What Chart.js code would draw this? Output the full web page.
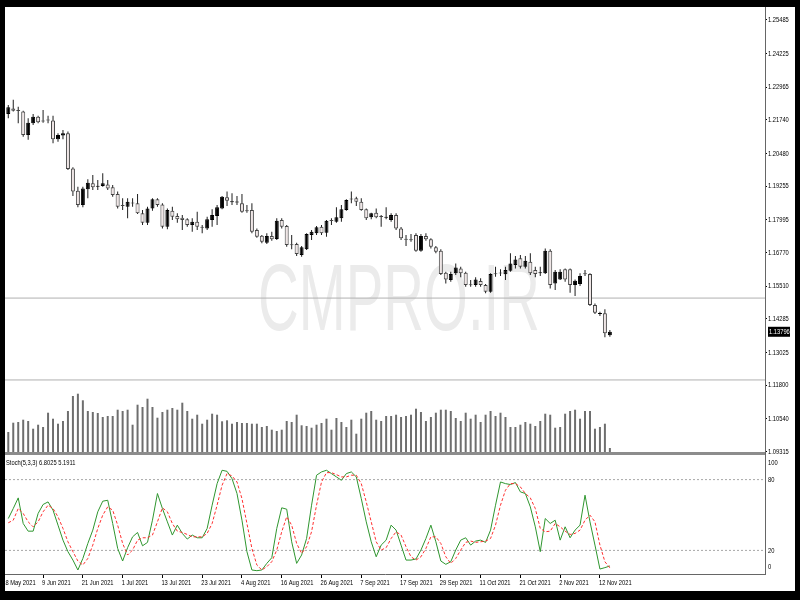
<!DOCTYPE html>
<html>
<head>
<meta charset="utf-8">
<script src="https://cdn.jsdelivr.net/npm/chart.js@4"></script>
<style>
  body { margin: 0; background: #000; width: 800px; height: 600px; overflow: hidden; }
  .abs { position: absolute; }
</style>
</head>
<body>
<div class="abs" style="left:5px;top:7px;width:790px;height:584px;background:#fff"></div>
<canvas id="main" class="abs" width="790" height="448" style="left:5px;top:7px"></canvas>
<canvas id="stoch" class="abs" width="790" height="136" style="left:5px;top:455px"></canvas>
<div class="abs" style="left:5px;top:452px;width:760px;height:3px;background:#8c8c8c"></div>
<div class="abs" style="left:765px;top:452px;width:1px;height:4px;background:#666"></div>
<script>
// EURUSD daily, 31 May - 16 Nov 2021
const opens = [
  1.2196,1.2217,1.2209,1.2205,1.2117,1.2161,1.2186,1.2170,1.2174,1.2172,
  1.2101,1.2115,1.2124,1.1992,1.1908,1.1855,1.1914,1.1936,1.1923,1.1926,
  1.1932,1.1921,1.1896,1.1852,1.1848,1.1861,1.1861,1.1824,1.1788,1.1842,
  1.1876,1.1857,1.1773,1.1833,1.1814,1.1807,1.1801,1.1780,1.1792,1.1771,
  1.1767,1.1799,1.1814,1.1842,1.1884,1.1865,1.1864,1.1861,1.1832,1.1836,
  1.1761,1.1740,1.1713,1.1739,1.1727,1.1799,1.1776,1.1705,1.1709,1.1667,
  1.1689,1.1742,1.1749,1.1773,1.1751,1.1796,1.1792,1.1805,1.1836,1.1876,
  1.1880,1.1867,1.1839,1.1809,1.1826,1.1811,1.1807,1.1799,1.1817,1.1767,
  1.1727,1.1724,1.1742,1.1683,1.1739,1.1726,1.1696,1.1683,1.1601,1.1574,
  1.1599,1.1617,1.1601,1.1555,1.1555,1.1570,1.1555,1.1530,1.1596,1.1599,
  1.1595,1.1608,1.1630,1.1655,1.1623,1.1642,1.1611,1.1599,1.1599,1.1683,
  1.1561,1.1576,1.1614,1.1614,1.1555,1.1559,1.1596,1.1596,1.1480,1.1446,
  1.1449,1.1367
]
const highs = [
  1.2230,1.2249,1.2223,1.2208,1.2180,1.2196,1.2189,1.2211,1.2189,1.2189,
  1.2124,1.2136,1.2130,1.1996,1.1923,1.1923,1.1951,1.1967,1.1949,1.1974,
  1.1949,1.1930,1.1905,1.1880,1.1880,1.1880,1.1896,1.1836,1.1848,1.1880,
  1.1880,1.1861,1.1842,1.1848,1.1824,1.1817,1.1805,1.1805,1.1830,1.1780,
  1.1811,1.1839,1.1855,1.1889,1.1905,1.1899,1.1889,1.1896,1.1855,1.1861,
  1.1767,1.1742,1.1749,1.1755,1.1805,1.1805,1.1780,1.1742,1.1713,1.1701,
  1.1749,1.1761,1.1776,1.1780,1.1799,1.1805,1.1846,1.1855,1.1876,1.1905,
  1.1886,1.1880,1.1842,1.1826,1.1842,1.1817,1.1846,1.1824,1.1824,1.1772,
  1.1742,1.1746,1.1749,1.1746,1.1749,1.1730,1.1701,1.1689,1.1605,1.1605,
  1.1636,1.1623,1.1605,1.1574,1.1584,1.1580,1.1559,1.1599,1.1623,1.1614,
  1.1623,1.1674,1.1664,1.1667,1.1664,1.1674,1.1623,1.1623,1.1692,1.1689,
  1.1611,1.1614,1.1617,1.1617,1.1576,1.1599,1.1611,1.1599,1.1486,1.1455,
  1.1464,1.1386
]
const lows = [
  1.2180,1.2205,1.2161,1.2111,1.2099,1.2155,1.2161,1.2163,1.2161,1.2086,
  1.2092,1.2101,1.1986,1.1889,1.1846,1.1846,1.1880,1.1911,1.1911,1.1923,
  1.1911,1.1886,1.1842,1.1836,1.1805,1.1848,1.1821,1.1780,1.1780,1.1833,
  1.1848,1.1767,1.1764,1.1799,1.1788,1.1761,1.1773,1.1755,1.1761,1.1749,
  1.1761,1.1773,1.1780,1.1839,1.1851,1.1855,1.1855,1.1826,1.1826,1.1749,
  1.1732,1.1711,1.1709,1.1721,1.1724,1.1767,1.1698,1.1689,1.1664,1.1661,
  1.1686,1.1724,1.1742,1.1742,1.1736,1.1780,1.1788,1.1792,1.1833,1.1861,
  1.1851,1.1833,1.1799,1.1801,1.1805,1.1773,1.1801,1.1792,1.1761,1.1724,
  1.1701,1.1717,1.1680,1.1680,1.1721,1.1692,1.1674,1.1592,1.1561,1.1567,
  1.1592,1.1584,1.1548,1.1548,1.1548,1.1548,1.1524,1.1526,1.1586,1.1589,
  1.1574,1.1605,1.1617,1.1617,1.1617,1.1592,1.1584,1.1589,1.1596,1.1542,
  1.1536,1.1574,1.1567,1.1526,1.1514,1.1551,1.1589,1.1476,1.1446,1.1439,
  1.1359,1.1361
]
const closes = [
  1.2221,1.2208,1.2207,1.2117,1.2163,1.2186,1.2165,1.2168,1.2172,1.2101,
  1.2117,1.2124,1.1990,1.1905,1.1855,1.1917,1.1938,1.1921,1.1924,1.1936,
  1.1917,1.1892,1.1848,1.1851,1.1867,1.1860,1.1824,1.1788,1.1842,1.1876,
  1.1855,1.1773,1.1836,1.1811,1.1801,1.1799,1.1780,1.1792,1.1773,1.1770,
  1.1801,1.1817,1.1846,1.1886,1.1871,1.1866,1.1868,1.1830,1.1831,1.1755,
  1.1736,1.1717,1.1739,1.1726,1.1796,1.1773,1.1705,1.1704,1.1671,1.1696,
  1.1746,1.1755,1.1771,1.1749,1.1796,1.1795,1.1809,1.1839,1.1874,1.1875,
  1.1867,1.1836,1.1805,1.1824,1.1809,1.1810,1.1808,1.1817,1.1767,1.1730,
  1.1725,1.1723,1.1683,1.1739,1.1726,1.1698,1.1680,1.1596,1.1576,1.1596,
  1.1621,1.1599,1.1555,1.1554,1.1576,1.1555,1.1530,1.1596,1.1595,1.1598,
  1.1611,1.1636,1.1651,1.1623,1.1646,1.1599,1.1596,1.1601,1.1683,1.1555,
  1.1605,1.1605,1.1576,1.1555,1.1571,1.1589,1.1595,1.1480,1.1451,1.1447,
  1.1374,1.13796
]
const volumes = [
  20000,29300,30000,32300,31000,23300,27300,25000,39300,33300,
  28300,31000,41000,56000,58300,51700,41000,40000,39000,35000,
  36000,36000,42300,41000,42300,27300,47300,45000,53300,45000,
  34300,40000,42300,44000,42300,49300,41000,33300,37300,28300,
  32300,38300,37300,30700,31700,28300,30000,29000,29000,28300,
  28300,25000,26000,22300,21000,22300,31000,30000,37300,26700,
  26000,24300,27300,29000,33300,22300,34000,30000,25000,32300,
  18300,33300,39300,41000,32300,31000,36000,36000,37300,35000,
  36000,37300,43300,40000,31000,35000,39300,42300,42300,41000,
  34000,31000,39300,33300,37300,30000,37300,41000,36000,39300,
  35000,25000,25000,27300,30000,28300,26000,31000,38300,37300,
  24300,25000,38300,41000,42300,33300,41000,41000,23300,25000,
  28300,4000
]
const stochK = [
  47.0,55.5,64.5,42.8,36.3,36.3,51.3,58.9,61.1,54.1,
  41.4,28.7,18.9,11.8,3.4,13.2,25.9,37.2,52.7,61.7,
  62.5,42.8,21.7,11.0,22.3,31.5,35.2,23.9,26.8,45.6,
  68.2,55.5,44.2,33.0,41.4,34.4,29.6,33.0,30.7,30.7,
  38.6,58.3,76.6,87.9,87.0,80.8,68.2,45.6,18.9,3.4,
  2.8,3.4,9.0,13.8,38.6,56.1,54.9,27.3,9.0,16.1,
  30.1,58.3,83.7,86.5,87.9,85.1,82.3,79.4,85.1,86.5,
  82.3,63.9,44.2,27.3,14.6,24.5,28.7,41.4,37.2,24.5,
  11.8,11.8,12.7,20.3,30.1,41.4,27.3,11.0,8.2,10.4,
  20.3,28.7,30.7,24.5,27.9,28.7,26.8,37.2,58.3,78.0,
  76.6,75.8,77.5,69.6,68.2,56.9,40.0,18.9,47.0,42.8,
  45.6,28.7,40.0,30.7,37.2,41.4,66.8,44.2,24.5,4.2,
  5.4,6.8025
]
const stochD = [
  43.4,45.6,55.5,51.3,44.2,40.0,44.2,52.7,58.3,55.5,
  48.5,38.6,27.3,18.9,11.0,7.6,13.2,24.5,38.6,49.9,
  56.9,54.1,41.4,25.9,16.1,20.3,28.7,30.7,30.7,33.0,
  44.2,56.1,52.7,42.8,36.3,35.2,33.5,31.5,31.5,31.5,
  34.4,42.8,58.3,75.2,85.1,83.1,78.0,63.9,42.8,21.7,
  7.6,3.4,6.2,10.4,20.3,35.8,48.5,41.4,25.9,17.5,
  23.1,35.8,58.3,78.0,85.9,85.9,84.2,82.3,82.3,83.7,
  83.7,76.6,61.1,44.2,27.3,20.3,22.3,30.1,35.8,33.0,
  23.1,14.6,11.8,14.6,21.7,31.5,31.5,25.9,14.6,9.0,
  13.2,20.3,26.8,27.9,26.8,27.3,27.9,30.1,41.4,58.3,
  71.0,76.6,76.6,73.8,68.2,64.5,55.5,38.6,35.8,36.3,
  42.8,40.0,36.3,33.5,34.4,37.2,45.6,49.9,44.2,24.5,
  10.4,5.1911
]
const priceTicks = [1.25485,1.24225,1.22965,1.21740,1.20480,1.19255,1.17995,1.16770,1.15510,1.14285,1.13025,1.11800,1.10540,1.09315]
const priceLines = [1.1506, 1.1199]
const stochTicks = [100, 80, 20, 0]
const stochLevels = [80, 20]
const dateLabels = ["28 May 2021","9 Jun 2021","21 Jun 2021","1 Jul 2021","13 Jul 2021","23 Jul 2021","4 Aug 2021","16 Aug 2021",
  "26 Aug 2021","7 Sep 2021","17 Sep 2021","29 Sep 2021","11 Oct 2021","21 Oct 2021","2 Nov 2021","12 Nov 2021"]
const dateTickIdx = [-1,7,15,23,31,39,47,55,63,71,79,87,95,103,111,119]

// visible window (bar index range, chart shift on the right) and price range
const xMin = -0.66, xMax = 152.2
const priceMin = 1.0929, priceMax = 1.2597

const isBull = (i) => closes[i] > opens[i]

// small condensed text, like the terminal's axis font
const narrow = (ctx, text, x, y, color) => {
  ctx.save()
  ctx.font = '8px "Liberation Sans", Arial, sans-serif'
  ctx.fillStyle = color || '#000'
  ctx.textBaseline = 'middle'
  ctx.textAlign = 'left'
  ctx.translate(x, y)
  ctx.scale(0.72, 1)
  ctx.fillText(text, 0, 0)
  ctx.restore()
}

const mainText = {
  id: 'mainText',
  beforeDatasetsDraw(chart) {
    const { ctx } = chart
    ctx.save()
    ctx.font = '94px "Liberation Sans", Arial, sans-serif'
    ctx.fillStyle = '#ebebeb'
    ctx.textAlign = 'center'
    ctx.translate(394, 323)
    ctx.scale(0.6, 1)
    ctx.fillText('CMPRO.IR', 0, 0)
    ctx.restore()
  },
  afterDraw(chart) {
    const { ctx } = chart
    const s = chart.scales.y
    priceTicks.forEach((v) => narrow(ctx, v.toFixed(5), s.left + 3, s.getPixelForValue(v)))
    const last = closes[closes.length - 1]
    const y = s.getPixelForValue(last)
    ctx.fillStyle = '#000'
    ctx.fillRect(s.left + 3, y - 5, 22, 10)
    narrow(ctx, last.toFixed(5), s.left + 4, y, '#fff')
  },
}

const stochText = {
  id: 'stochText',
  afterDraw(chart) {
    const { ctx, chartArea: a } = chart
    const xs = chart.scales.x
    const ys = chart.scales.y
    const k = stochK[stochK.length - 1].toFixed(4)
    const d = stochD[stochD.length - 1].toFixed(4)
    narrow(ctx, 'Stoch(5,3,3) ' + k + ' ' + d, a.left + 1, a.top + 7)
    stochTicks.forEach((v) => {
      const y = Math.min(Math.max(ys.getPixelForValue(v), a.top + 7), a.bottom - 7)
      narrow(ctx, String(v), ys.left + 3, y)
    })
    dateLabels.forEach((t, n) => narrow(ctx, t, xs.getPixelForValue(dateTickIdx[n]) - 1, xs.top + 9))
  },
}

const flat = (v) => [{ x: xMin, y: v }, { x: xMax, y: v }]
const common = {
  responsive: false,
  animation: false,
  devicePixelRatio: 1,
  events: [],
  plugins: { legend: { display: false }, tooltip: { enabled: false } },
}

new Chart(document.getElementById('main'), {
  type: 'bar',
  data: {
    datasets: [
      {
        data: opens.map((o, i) => ({ x: i, y: [Math.min(o, closes[i]), Math.max(o, closes[i])] })),
        backgroundColor: (c) => (isBull(c.dataIndex) ? '#000' : '#efe6e6'),
        borderColor: (c) => (isBull(c.dataIndex) ? '#000' : '#444'),
        borderWidth: 1,
        borderSkipped: false,
        barThickness: 4,
        minBarLength: 1,
        inflateAmount: 0,
        grouped: false,
      },
      {
        data: lows.map((l, i) => ({ x: i, y: [l, highs[i]] })),
        backgroundColor: '#1e1e1e',
        barThickness: 1,
        inflateAmount: 0,
        grouped: false,
      },
      {
        data: volumes.map((v, i) => ({ x: i, y: v })),
        yAxisID: 'yv',
        backgroundColor: '#6e6e6e',
        barThickness: 2,
        inflateAmount: 0,
        grouped: false,
      },
      ...priceLines.map((p) => ({
        type: 'line',
        data: flat(p),
        borderColor: '#b0b0b0',
        borderWidth: 1,
        pointRadius: 0,
      })),
    ],
  },
  options: {
    ...common,
    layout: { padding: { bottom: 3 } },
    scales: {
      x: { type: 'linear', min: xMin, max: xMax, offset: false, display: false },
      y: {
        position: 'right',
        min: priceMin,
        max: priceMax,
        afterBuildTicks: (s) => { s.ticks = priceTicks.map((v) => ({ value: v })) },
        afterFit: (s) => { s.width = 30; s.paddingTop = 0; s.paddingBottom = 0 },
        ticks: { display: false },
        grid: { drawOnChartArea: false, tickLength: 2, color: '#000' },
        border: { color: '#666' },
      },
      yv: { display: false, min: 0, max: 445000 },
    },
  },
  plugins: [mainText],
})

new Chart(document.getElementById('stoch'), {
  type: 'line',
  data: {
    datasets: [
      {
        data: stochD.map((v, i) => ({ x: i, y: v })),
        borderColor: '#ff3030',
        borderWidth: 1,
        borderDash: [3, 2],
        pointRadius: 0,
      },
      {
        data: stochK.map((v, i) => ({ x: i, y: v })),
        borderColor: '#2f962f',
        borderWidth: 1,
        pointRadius: 0,
      },
      ...stochLevels.map((v) => ({
        data: flat(v),
        borderColor: '#a8a8a8',
        borderWidth: 1,
        borderDash: [2, 2],
        pointRadius: 0,
      })),
    ],
  },
  options: {
    ...common,
    layout: { padding: { top: 1 } },
    scales: {
      x: {
        type: 'linear',
        min: xMin,
        max: xMax,
        afterBuildTicks: (s) => { s.ticks = dateTickIdx.map((v) => ({ value: v })) },
        afterFit: (s) => { s.height = 17; s.paddingLeft = 0; s.paddingRight = 0 },
        ticks: { display: false },
        grid: { drawOnChartArea: false, tickLength: 4, color: '#000' },
        border: { color: '#666' },
      },
      y: {
        position: 'right',
        min: 0,
        max: 100,
        afterBuildTicks: (s) => { s.ticks = stochTicks.map((v) => ({ value: v })) },
        afterFit: (s) => { s.width = 30; s.paddingTop = 0; s.paddingBottom = 0 },
        ticks: { display: false },
        grid: { drawOnChartArea: false, drawTicks: false },
        border: { color: '#666' },
      },
    },
  },
  plugins: [stochText],
})
</script>
</body>
</html>
